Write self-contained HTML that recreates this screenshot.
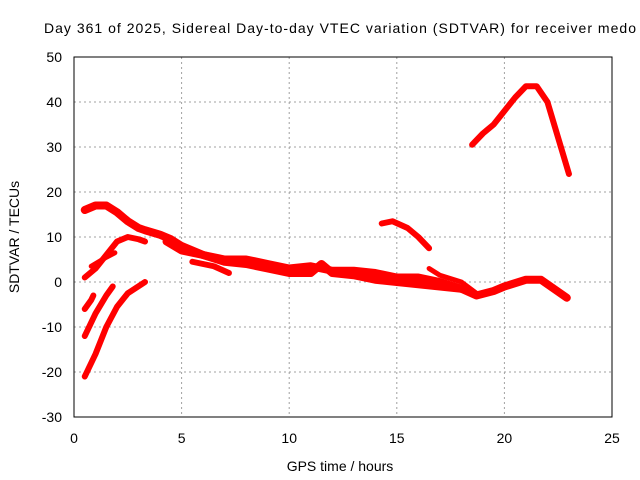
<!DOCTYPE html>
<html><head><meta charset="utf-8"><style>
html,body{margin:0;padding:0;background:#fff;}
svg{display:block;font-family:"Liberation Sans",sans-serif;}
</style></head><body>
<svg id="chart" width="640" height="480">
<text x="340" y="33" font-size="14" text-anchor="middle" textLength="592">Day 361 of 2025, Sidereal Day-to-day VTEC variation (SDTVAR) for receiver medo</text>
<text transform="translate(19,237) rotate(-90)" font-size="14" text-anchor="middle">SDTVAR / TECUs</text>
<text x="340" y="471" font-size="14" text-anchor="middle">GPS time / hours</text>
<g id="grid"></g>
<g id="ticks"></g>
<g id="series"></g>
<rect x="74" y="57" width="538" height="360" fill="none" stroke="#000" stroke-width="1"/>
</svg>
<script>
const xTicks=[0,5,10,15,20,25];
const yTicks=[-30,-20,-10,0,10,20,30,40,50];
const trackTop=[[0.5,16],[1,17],[1.5,17],[2,15.5],[2.5,13.5],[3,12],[3.3,11.5],[4,10.5],[4.5,9.5],[5,8],[5.5,7],[6,6],[7,5],[8,5],[9,4],[10,3],[11,3.5],[12,2.5],[13,2.5],[14,2],[15,1],[16,1],[17,0],[18,-1.5],[18.7,-3],[19.5,-2],[20,-1],[21,0.5],[21.7,0.5],[22.3,-1.5],[22.9,-3.5]];
const trackLow=[[4.3,9],[5,7],[6,6],[7,4.5],[8,4],[9,3],[10,2],[11,2],[11.5,4],[12,2],[13,1.5],[14,0.5],[15,0],[16,-0.5],[17,-1],[18,-1.5]];
const trackBranch=[[5.5,4.5],[6.5,3.5],[7.2,2]];
const trackRise=[[0.5,1],[1,3],[1.5,6],[2,9],[2.5,10],[3,9.5],[3.3,9]];
const trackShort=[[0.8,3.5],[1.5,5.5],[1.9,6.5]];
const trackD=[[0.5,-6],[0.8,-4],[0.9,-3]];
const trackE=[[0.5,-12],[1,-7],[1.5,-3],[1.8,-1]];
const trackF=[[0.5,-21],[1,-16],[1.5,-10],[2,-5.5],[2.5,-2.5],[3.3,0]];
const trackG=[[14.3,13],[14.8,13.5],[15.5,12],[16,10],[16.5,7.5]];
const trackH=[[18.5,30.5],[19,33],[19.5,35],[20,38],[20.5,41],[21,43.5],[21.5,43.5],[22,40],[22.5,32],[23,24]];
const trackI=[[16.5,3],[17,1.5],[18,0],[18.7,-2.5]];
const tracks=[trackTop,trackLow,trackBranch,trackRise,trackShort,trackD,trackE,trackF,trackG,trackH,trackI];
const widths=[8,8,6,6,5,6,6,6,6,6,5];
const NS='http://www.w3.org/2000/svg';
const X=v=>74+v*538/25, Y=v=>57+(50-v)*360/80;
const grid=document.getElementById('grid'),ticks=document.getElementById('ticks'),ser=document.getElementById('series');
xTicks.forEach(t=>{
  if(t>0&&t<25){const l=document.createElementNS(NS,'line');
  
  
  l.setAttribute('x1',X(t));l.setAttribute('x2',X(t));l.setAttribute('y1',57);l.setAttribute('y2',417);
  l.setAttribute('stroke','#a0a0a0');l.setAttribute('stroke-dasharray','2,3');grid.appendChild(l);}
  const tx=document.createElementNS(NS,'text');
  
  
  tx.setAttribute('x',X(t));tx.setAttribute('y',443);tx.setAttribute('font-size','14');tx.setAttribute('text-anchor','middle');tx.textContent=t;ticks.appendChild(tx);
});
yTicks.forEach(t=>{
  if(t>-30&&t<50){const l=document.createElementNS(NS,'line');
  
  
  l.setAttribute('x1',74);l.setAttribute('x2',612);l.setAttribute('y1',Y(t));l.setAttribute('y2',Y(t));
  l.setAttribute('stroke','#a0a0a0');l.setAttribute('stroke-dasharray','2,3');grid.appendChild(l);}
  const tx=document.createElementNS(NS,'text');
  
  
  tx.setAttribute('x',62);tx.setAttribute('y',Y(t)+5);tx.setAttribute('font-size','14');tx.setAttribute('text-anchor','end');tx.textContent=t;ticks.appendChild(tx);
});
tracks.forEach((tr,i)=>{
  const p=document.createElementNS(NS,'polyline');
  
  
  p.setAttribute('points',tr.map(d=>X(d[0])+','+Y(d[1])).join(' '));
  p.setAttribute('fill','none');p.setAttribute('stroke','#ff0000');p.setAttribute('stroke-width',widths[i]);
  p.setAttribute('stroke-linejoin','round');p.setAttribute('stroke-linecap','round');
  ser.appendChild(p);
});
</script>
</body></html>
